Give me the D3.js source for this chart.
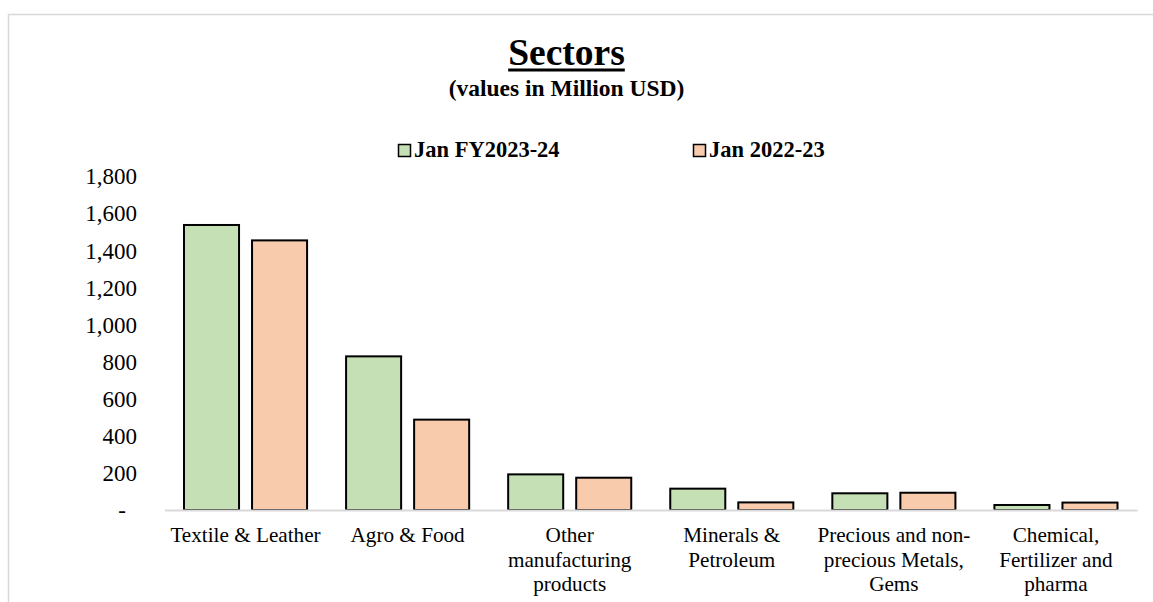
<!DOCTYPE html>
<html>
<head>
<meta charset="utf-8">
<script src="https://cdn.jsdelivr.net/npm/d3@7"></script>
<style>
  html, body { margin: 0; padding: 0; background: #fff; }
  svg { display: block; font-family: "Liberation Serif", "Times New Roman", serif; }
</style>
</head>
<body>
<svg id="chart" width="1153" height="602"></svg>
<script>
// ---- Data ----
const categories = [
  "Textile & Leather",
  "Agro & Food",
  "Other manufacturing products",
  "Minerals & Petroleum",
  "Precious and non-precious Metals, Gems",
  "Chemical, Fertilizer and pharma"
];
const categoryLines = [
  ["Textile & Leather"],
  ["Agro & Food"],
  ["Other", "manufacturing", "products"],
  ["Minerals &", "Petroleum"],
  ["Precious and non-", "precious Metals,", "Gems"],
  ["Chemical,", "Fertilizer and", "pharma"]
];
const seriesNames = ["Jan FY2023-24", "Jan 2022-23"];
const seriesJan2024 = [1536, 828, 192, 115, 90, 27];
const seriesJan2023 = [1453, 487, 174, 41, 93, 40];
const yTicks = [0, 200, 400, 600, 800, 1000, 1200, 1400, 1600, 1800];
const seriesColors = ["#C5E0B4", "#F8CBAD"];

// ---- Layout ----
const svg = d3.select("#chart");
const plot = { left: 164.5, right: 1137, top: 176, bottom: 510 };
const serif = "Liberation Serif, Times New Roman, serif";

// frame
svg.append("rect")
  .attr("x", 8.5).attr("y", 14.5)
  .attr("width", 1160).attr("height", 620)
  .attr("fill", "none").attr("stroke", "#d9d9d9").attr("stroke-width", 1.5);

const x0 = d3.scaleBand().domain(categories).range([plot.left, plot.right]).padding(0);
const groupPad = 19.5;
const x1 = d3.scaleBand().domain(seriesNames)
  .range([groupPad, x0.bandwidth() - groupPad]).paddingInner(0.191).paddingOuter(0);
const y = d3.scaleLinear().domain([0, 1800]).range([plot.bottom, plot.top]);

// title
const title = svg.append("text")
  .attr("x", 566.5).attr("y", 65)
  .attr("text-anchor", "middle")
  .attr("font-family", serif)
  .attr("font-weight", "bold").attr("font-size", 37.5)
  .attr("fill", "#000")
  .text("Sectors");
const tb = title.node().getBBox();
svg.append("rect")
  .attr("x", tb.x).attr("y", 68.5)
  .attr("width", tb.width).attr("height", 3)
  .attr("fill", "#000");

svg.append("text")
  .attr("x", 566.5).attr("y", 96)
  .attr("text-anchor", "middle")
  .attr("font-family", serif)
  .attr("font-weight", "bold").attr("font-size", 23.5)
  .attr("fill", "#000")
  .text("(values in Million USD)");

// legend
const legendX = [398, 693];
seriesNames.forEach((name, i) => {
  const g = svg.append("g");
  g.append("rect")
    .attr("x", legendX[i] + 0.5).attr("y", 144.5)
    .attr("width", 12).attr("height", 12)
    .attr("fill", seriesColors[i]).attr("stroke", "#000").attr("stroke-width", 1.5);
  g.append("text")
    .attr("x", legendX[i] + 16).attr("y", 157)
    .attr("font-family", serif)
    .attr("font-weight", "bold").attr("font-size", 22.5)
    .attr("fill", "#000")
    .text(name);
});

// y axis (labels only)
const yAxis = d3.axisLeft(y)
  .tickValues(yTicks)
  .tickSize(0)
  .tickPadding(0)
  .tickFormat(d => d === 0 ? "-" : d3.format(",")(d));
const yg = svg.append("g")
  .attr("transform", `translate(137,0)`)
  .call(yAxis)
  .attr("font-family", serif);
yg.select(".domain").remove();
yg.selectAll("text")
  .attr("font-family", serif)
  .attr("font-size", 23)
  .attr("fill", "#000")
  .attr("dy", "0.34em")
  .attr("dx", d => d === 0 ? -11 : 0);

// bars
const data = categories.map((c, i) => ({ cat: c, vals: [seriesJan2024[i], seriesJan2023[i]] }));
const groups = svg.append("g").selectAll("g")
  .data(data).join("g")
  .attr("transform", d => `translate(${x0(d.cat)},0)`);
groups.selectAll("rect")
  .data(d => d.vals.map((v, i) => ({ s: seriesNames[i], v, i })))
  .join("rect")
  .attr("x", d => x1(d.s))
  .attr("y", d => y(d.v))
  .attr("width", x1.bandwidth())
  .attr("height", d => y(0) - y(d.v))
  .attr("fill", d => seriesColors[d.i])
  .attr("stroke", "#000")
  .attr("stroke-width", 2);

// x axis baseline
const xAxis = d3.axisBottom(x0).tickSize(0).tickFormat("");
const xg = svg.append("g")
  .attr("transform", `translate(0,${plot.bottom})`)
  .call(xAxis);
xg.select(".domain").attr("stroke", "#d9d9d9").attr("stroke-width", 2);
xg.selectAll(".tick text").remove();

// category labels
categories.forEach((c, i) => {
  const t = svg.append("text")
    .attr("text-anchor", "middle")
    .attr("font-family", serif)
    .attr("font-size", 21.2)
    .attr("fill", "#000");
  categoryLines[i].forEach((line, j) => {
    t.append("tspan")
      .attr("x", x0(c) + x0.bandwidth() / 2)
      .attr("y", 542 + j * 24.5)
      .text(line);
  });
});
</script>
</body>
</html>
